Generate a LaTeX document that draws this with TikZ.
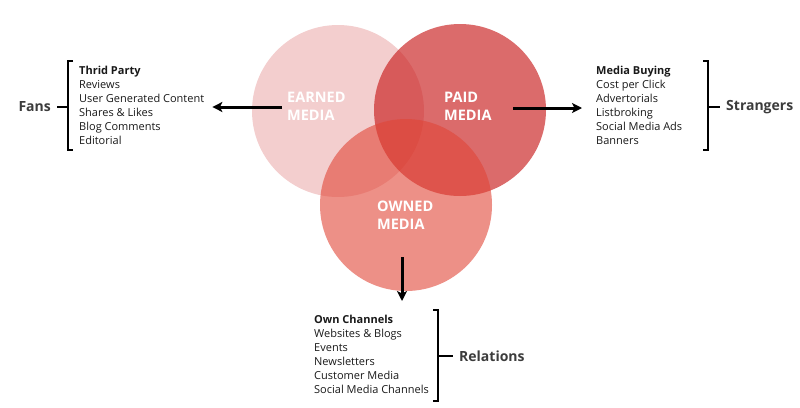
\documentclass[tikz,border=0pt]{standalone}
\usepackage{fontspec}
\setmainfont{Open Sans}
\usetikzlibrary{arrows.meta}
\definecolor{mediared}{RGB}{200,30,30}
\definecolor{ownred}{RGB}{225,70,55}
\definecolor{grouptext}{RGB}{60,60,60}
\tikzset{
  circ/.style={circle, minimum size=172pt, inner sep=0pt},
  lbl/.style={text=white, font=\bfseries\fontsize{14.5}{18}\selectfont, align=left, anchor=west, inner sep=0pt},
  lst/.style={align=left, font=\fontsize{11}{14}\selectfont, anchor=north west, inner sep=0pt, text=black!90},
  grp/.style={font=\bfseries\fontsize{14}{16}\selectfont, text=grouptext, inner sep=0pt},
  brk/.style={line width=1.6pt},
  arr/.style={-{Stealth[length=10pt,width=10pt,inset=2.5pt]}, line width=3pt}
}
\begin{document}
\begin{tikzpicture}[x=1pt, y=-1pt]
\useasboundingbox (0,0) rectangle (800,407);
% circles
\node[circ, fill=mediared, fill opacity=0.22] (earned) at (338,111) {};
\node[circ, fill=mediared, fill opacity=0.66] (paid) at (460,110) {};
\node[circ, fill=ownred, fill opacity=0.6] (owned) at (406,205) {};
\node[lbl] (earnedlbl) at (287,106) {EARNED\\MEDIA};
\node[lbl] (paidlbl) at (444,106) {PAID\\MEDIA};
\node[lbl] (ownedlbl) at (377,215) {OWNED\\MEDIA};

% lists
\node[lst] (fanslist) at (79,66) {\textbf{Thrid Party}\\Reviews\\User Generated Content\\Shares \& Likes\\Blog Comments\\Editorial};
\node[lst] (buylist) at (596,66) {\textbf{Media Buying}\\Cost per Click\\Advertorials\\Listbroking\\Social Media Ads\\Banners};
\node[lst] (chanlist) at (314,315) {\textbf{Own Channels}\\Websites \& Blogs\\Events\\Newsletters\\Customer Media\\Social Media Channels};

% arrows
\coordinate (earnout) at (282,107);
\coordinate (paidout) at (513,108);
\coordinate (ownout) at (402,257);
\draw[arr, shorten >=8pt] (earnout) -- (earnout -| fanslist.east);
\draw[arr, shorten >=14pt] (paidout) -- (paidout -| buylist.west);
\draw[arr, shorten >=14pt] (ownout) -- (ownout |- chanlist.north);

% brackets
\draw[brk] (73,61) -- (68,61) -- (68,150) -- (73,150);
\draw[brk] (68,107) -- (57,107);
\draw[brk] (703,61) -- (708,61) -- (708,150) -- (703,150);
\draw[brk] (708,107) -- (720,107);
\draw[brk] (433,310) -- (438,310) -- (438,401) -- (433,401);
\draw[brk] (438,356) -- (453,356);

% groups
\node[grp, anchor=east] (fans) at (51,107) {Fans};
\node[grp, anchor=west] (strangers) at (726,107) {Strangers};
\node[grp, anchor=west] (relations) at (459,356) {Relations};
\end{tikzpicture}
\end{document}
